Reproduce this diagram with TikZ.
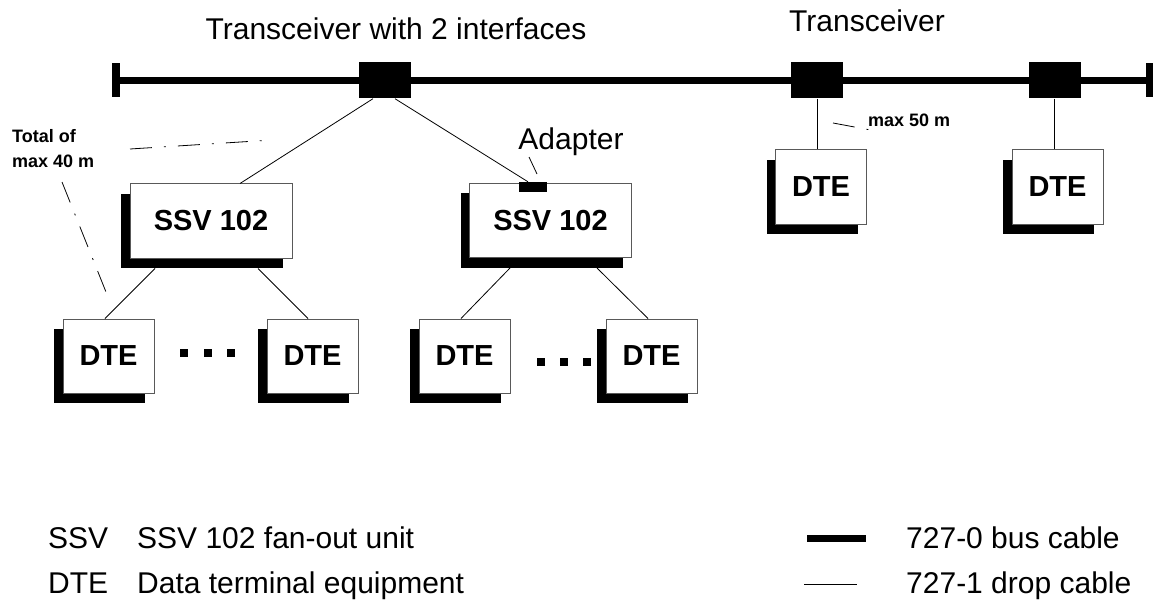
\documentclass[tikz,border=0pt]{standalone}
\usepackage{fontspec}
\setmainfont{Liberation Sans}
\usetikzlibrary{shadows,calc}
\begin{document}
\begin{tikzpicture}[x=1pt,y=-1pt,
    trx/.style={fill=black,inner sep=0,minimum width=52,minimum height=36},
    endbar/.style={fill=black,inner sep=0,minimum width=8,minimum height=34},
    unitbox/.style={draw=black!65,line width=1,fill=white,inner sep=0,
      general shadow={fill=black,shadow xshift=-9pt,shadow yshift=-10pt},
      font=\fontsize{29}{34}\selectfont\bfseries},
    ssvbox/.style={unitbox,minimum width=162,minimum height=74},
    dtebox/.style={unitbox,minimum width=91,minimum height=74},
    txt/.style={inner sep=0,font=\fontsize{30}{36}\selectfont},
    notetxt/.style={inner sep=0,font=\fontsize{18}{25}\selectfont\bfseries},
    dotsq/.style={fill=black,inner sep=0,minimum size=8},
    busline/.style={line width=7},
    dropline/.style={line width=0.8},
    dimline/.style={line width=0.8,dash pattern=on 22pt off 12pt on 2pt off 12pt}]
  \useasboundingbox (0,0) rectangle (1153,604);
  \draw
    (116,80.5) node[endbar] (endL) {}
    (1150,80.5) node[endbar] (endR) {}
    (385,80.5) node[trx] (trA) {}
    (817,80.5) node[trx] (trB) {}
    (1054.5,80.5) node[trx] (trC) {}
    (211,221) node[ssvbox] (ssvA) {SSV 102}
    (550.5,220.5) node[ssvbox] (ssvB) {SSV 102}
    (533,187) node[trx,minimum width=28,minimum height=10] (adp) {}
    (108.5,356) node[dtebox] (dteA) {DTE}
    (312.5,356) node[dtebox] (dteB) {DTE}
    (464.5,356) node[dtebox] (dteC) {DTE}
    (651.5,356) node[dtebox] (dteD) {DTE}
    (821,187) node[dtebox] (dteE) {DTE}
    (1057.5,187) node[dtebox] (dteF) {DTE};
  \draw
    (396,40) node[txt,anchor=base] (capA) {Transceiver with 2 interfaces}
    (867,32) node[txt,anchor=base] (capB) {Transceiver}
    (571,150) node[txt,anchor=base] (capAdp) {Adapter}
    (868,127) node[notetxt,anchor=base west] (len50) {max 50 m}
    (12,129.5) node[notetxt,anchor=north west,align=left] (len40) {Total of\\max 40 m};
  \foreach \x [count=\i] in {184,207.5,231}
    \node[dotsq] (dotA\i) at (\x,353) {};
  \foreach \x [count=\i] in {541,564,587}
    \node[dotsq] (dotB\i) at (\x,362) {};
  \coordinate (adpTip) at (529,157);
  \coordinate (adpFoot) at (537,174);
  \coordinate (dimA1) at (130,149);
  \coordinate (dimA2) at (272,140);
  \coordinate (dimB1) at (62,182);
  \coordinate (dimB2) at (106,292);
  \coordinate (dimC1) at (833,123);
  \coordinate (dimC2) at (876,131);
  \begin{scope}[busline]
    \draw (endL) -- (endR);
  \end{scope}
  \begin{scope}[dropline]
    \draw ($(trA.south)+(-12,0)$) -- ($(ssvA.north)+(29,0)$);
    \draw ($(trA.south)+(10,0)$) -- ($(adp.north)+(-5,0)$);
    \draw (trB) -- (trB |- dteE.north);
    \draw (trC) -- (trC |- dteF.north);
    \draw ($(ssvA.south)+(-56,10)$) -- ($(dteA.north)+(-3.5,0)$);
    \draw ($(ssvA.south)+(47,10)$) -- ($(dteB.north)+(-4.5,0)$);
    \draw ($(ssvB.south)+(-40.5,10)$) -- ($(dteC.north)+(-3.5,0)$);
    \draw ($(ssvB.south)+(46.5,10)$) -- ($(dteD.north)+(-3.5,0)$);
    \draw (adpTip) -- (adpFoot);
  \end{scope}
  \begin{scope}[dimline]
    \draw (dimA1) -- (dimA2);
    \draw (dimB1) -- (dimB2);
    \draw (dimC1) -- (dimC2);
  \end{scope}
  \draw
    (48,548) node[txt,anchor=base west] (keySSV) {SSV}
    (137,548) node[txt,anchor=base west] (txtSSV) {SSV 102 fan-out unit}
    (48,593) node[txt,anchor=base west] (keyDTE) {DTE}
    (137,593) node[txt,anchor=base west] (txtDTE) {Data terminal equipment}
    (906,548) node[txt,anchor=base west] (txtBus) {727-0 bus cable}
    (906,593) node[txt,anchor=base west] (txtDrop) {727-1 drop cable};
  \coordinate (keyBusL) at (807,538.5);
  \coordinate (keyBusR) at (866,538.5);
  \coordinate (keyDropL) at (804,584);
  \coordinate (keyDropR) at (857,584);
  \draw[busline] (keyBusL) -- (keyBusR);
  \draw[dropline] (keyDropL) -- (keyDropR);
\end{tikzpicture}
\end{document}
